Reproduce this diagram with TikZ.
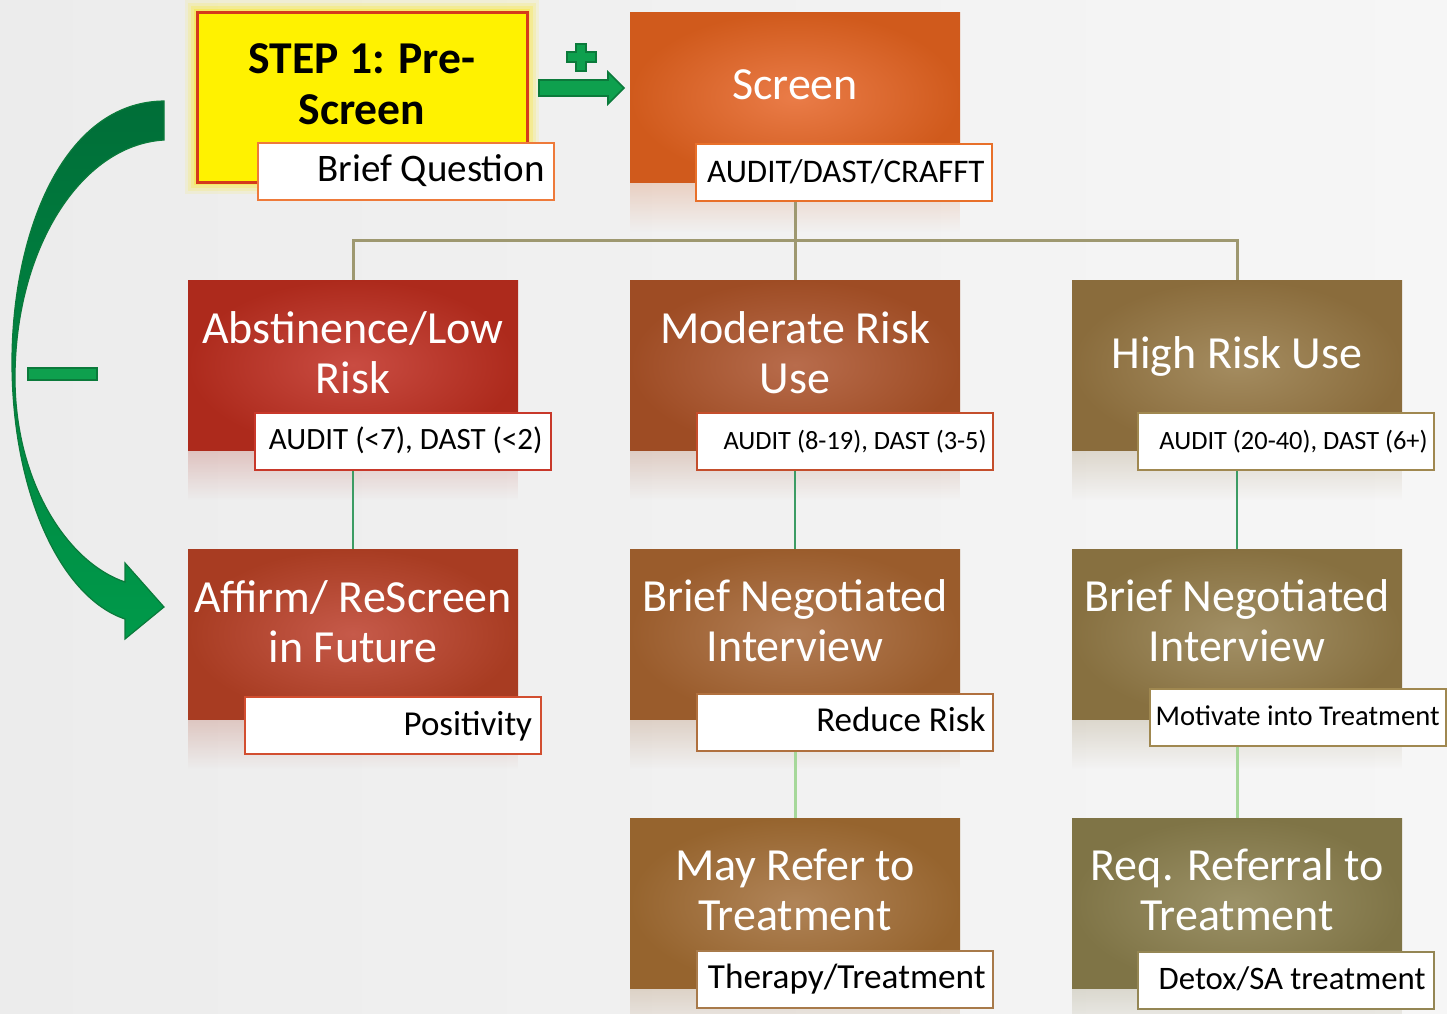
\documentclass[tikz,border=0pt]{standalone}
\usepackage{fontspec}
\setmainfont{Carlito}
\usetikzlibrary{fadings}

% box colours: edge / centre
\definecolor{scrO}{HTML}{D05A1C}\definecolor{scrI}{HTML}{EA7C48}
\definecolor{absO}{HTML}{AD2A1C}\definecolor{absI}{HTML}{C94C42}
\definecolor{affO}{HTML}{A83C22}\definecolor{affI}{HTML}{C65A4A}
\definecolor{modO}{HTML}{9E4C24}\definecolor{modI}{HTML}{B86C4C}
\definecolor{bnaO}{HTML}{9A5C2C}\definecolor{bnaI}{HTML}{B27C54}
\definecolor{refO}{HTML}{96642E}\definecolor{refI}{HTML}{B08458}
\definecolor{higO}{HTML}{8A6C3C}\definecolor{higI}{HTML}{A48C60}
\definecolor{bnbO}{HTML}{877040}\definecolor{bnbI}{HTML}{A29066}
\definecolor{reqO}{HTML}{7F7446}\definecolor{reqI}{HTML}{9C9268}
% tag borders
\definecolor{tagPre}{HTML}{EE7A3A}
\definecolor{tagScr}{HTML}{E8702A}
\definecolor{tagAbs}{HTML}{C8382A}
\definecolor{tagMod}{HTML}{C44E2C}
\definecolor{tagAff}{HTML}{D24E30}
\definecolor{tagBna}{HTML}{B0703E}
\definecolor{tagRef}{HTML}{A87A4A}
\definecolor{tagHig}{HTML}{A08850}
\definecolor{tagReq}{HTML}{948654}
% lines, arrows, background
\definecolor{trunkc}{HTML}{9E9870}
\definecolor{stemc}{HTML}{3C9C64}
\definecolor{lightstem}{HTML}{A6D89A}
\definecolor{arrfill}{HTML}{0EA04E}
\definecolor{arrdraw}{HTML}{0B7A3B}
\definecolor{crvtop}{HTML}{006E38}
\definecolor{crvbot}{HTML}{009A4A}
\definecolor{stepred}{HTML}{D43A1C}
\definecolor{bgl}{HTML}{ECECEC}
\definecolor{bgr}{HTML}{F6F6F6}

\newcommand\twolines[2]{\begin{tabular}[t]{@{}c@{}}#1\\#2\end{tabular}}

\begin{document}
\begin{tikzpicture}[x=0.5pt,y=-0.5pt,
  box/.style={minimum width=165pt,minimum height=85pt,inner sep=0pt,outer sep=0pt},
  tag/.style={draw,line width=1pt,fill=white,minimum width=148pt,minimum height=28.5pt,inner sep=0pt,outer sep=0pt},
  tagtext/.style={anchor=base east,inner sep=0pt,text=black},
  title/.style={anchor=base,inner sep=0pt,text=white,font=\fontsize{23}{25}\selectfont},
  trunk/.style={draw=trunkc,line width=1.5pt},
  stem/.style={draw=stemc,line width=1.2pt},
  lstem/.style={draw=lightstem,line width=1.5pt},
  mirror/.style={opacity=.22,path fading=south}
]
\useasboundingbox (0,0) rectangle (1447,1013);
\shade[left color=bgl,right color=bgr] (0,0) rectangle (1447,1013);

% soft reflections under the boxes
\foreach \cx/\by/\c in {795/182/scrO,353/450/absO,795/450/modO,1237/450/higO,
                        353/719/affO,795/719/bnaO,1237/719/bnbO,795/988/refO,1237/988/reqO}
  \fill[\c,mirror] (\cx-165,\by) rectangle (\cx+165,\by+50);

% glow round the first step
\foreach \r/\o in {12/0.10,9/0.14,6/0.2,3/0.3}
  \fill[yellow!90!orange,opacity=\o] (197-\r,12-\r) rectangle (527+\r,182+\r);

% main boxes
\node[box,draw=stepred,line width=1.5pt,fill=yellow] (pre) at (362,97) {};
\node[box,inner color=scrI,outer color=scrO] (screen) at (795,97) {};
\node[box,inner color=absI,outer color=absO] (abst) at (353,365) {};
\node[box,inner color=modI,outer color=modO] (mod) at (795,365) {};
\node[box,inner color=higI,outer color=higO] (high) at (1237,365) {};
\node[box,inner color=affI,outer color=affO] (affirm) at (353,634) {};
\node[box,inner color=bnaI,outer color=bnaO] (bnia) at (795,634) {};
\node[box,inner color=bnbI,outer color=bnbO] (bnib) at (1237,634) {};
\node[box,inner color=refI,outer color=refO] (refer) at (795,903) {};
\node[box,inner color=reqI,outer color=reqO] (req) at (1237,903) {};

% connectors
\coordinate (bus) at (795,240);
\draw[trunk] (screen.south) -- (bus) -| (abst.north);
\draw[trunk] (bus) -| (high.north);
\draw[trunk] (bus) -- (mod.north);
\draw[stem] (abst.south) -- (affirm.north);
\draw[stem] (mod.south) -- (bnia.north);
\draw[stem] (high.south) -- (bnib.north);
\draw[lstem] (bnia.south) -- (refer.north);
\draw[lstem] (bnib.south) -- (req.north);

% titles
\node[anchor=base,inner sep=0pt,font=\bfseries\fontsize{22.8}{25.5}\selectfont] (preT) at (362,73) {\twolines{STEP 1: Pre-}{Screen}};
\node[title] (screenT) at (795,99) {Screen};
\node[title] (abstT) at (353,343) {\twolines{Abstinence/Low}{Risk}};
\node[title] (modT) at (795,343) {\twolines{Moderate Risk}{Use}};
\node[title] (highT) at (1237,368) {High Risk Use};
\node[title] (affirmT) at (353,612) {\twolines{Affirm/ ReScreen}{in Future}};
\node[title] (bniaT) at (795,611) {\twolines{Brief Negotiated}{Interview}};
\node[title] (bnibT) at (1237,611) {\twolines{Brief Negotiated}{Interview}};
\node[title] (referT) at (795,880) {\twolines{May Refer to}{Treatment}};
\node[title] (reqT) at (1237,880) {\twolines{Req. Referral to}{Treatment}};

% tags
\node[tag,draw=tagPre] (preL) at (406,171.5) {};
\node[tag,draw=tagScr] (screenL) at (844,172.5) {};
\node[tag,draw=tagAbs] (abstL) at (403,441.5) {};
\node[tag,draw=tagMod] (modL) at (845,441.5) {};
\node[tag,draw=tagHig] (highL) at (1286,441.5) {};
\node[tag,draw=tagAff] (affirmL) at (392.5,725) {};
\node[tag,draw=tagBna] (bniaL) at (845,722) {};
\node[tag,draw=tagHig] (bnibL) at (1298,717) {};
\node[tag,draw=tagRef] (referL) at (845,979) {};
\node[tag,draw=tagReq] (reqL) at (1286,980) {};

\node[tagtext,font=\fontsize{19.5}{21}\selectfont] (preX) at ([xshift=-4.5pt,yshift=-5pt]preL.east) {Brief Question};
\node[tagtext,font=\fontsize{16.5}{18}\selectfont] (screenX) at ([xshift=-3.5pt,yshift=-4.75pt]screenL.east) {AUDIT/DAST/CRAFFT};
\node[tagtext,font=\fontsize{15.5}{17}\selectfont] (abstX) at ([xshift=-4pt,yshift=-3.75pt]abstL.east) {AUDIT (<7), DAST (<2)};
\node[tagtext,font=\fontsize{13.2}{15}\selectfont] (modX) at ([xshift=-3pt,yshift=-3.75pt]modL.east) {AUDIT (8-19), DAST (3-5)};
\node[tagtext,font=\fontsize{13.2}{15}\selectfont] (highX) at ([xshift=-3pt,yshift=-3.75pt]highL.east) {AUDIT (20-40), DAST (6+)};
\node[tagtext,font=\fontsize{17.5}{19}\selectfont] (affirmX) at ([xshift=-4pt,yshift=-5pt]affirmL.east) {Positivity};
\node[tagtext,font=\fontsize{17.5}{19}\selectfont] (bniaX) at ([xshift=-3.5pt,yshift=-4.5pt]bniaL.east) {Reduce Risk};
\node[tagtext,font=\fontsize{14.3}{16}\selectfont] (bnibX) at ([xshift=-3pt,yshift=-4pt]bnibL.east) {Motivate into Treatment};
\node[tagtext,font=\fontsize{17.6}{19}\selectfont] (referX) at ([xshift=-3.5pt,yshift=-4.5pt]referL.east) {Therapy/Treatment};
\node[tagtext,font=\fontsize{16.4}{18}\selectfont] (reqX) at ([xshift=-4pt,yshift=-4.5pt]reqL.east) {Detox/SA treatment};

% plus sign and block arrow towards the screen
\filldraw[fill=arrfill,draw=arrdraw,line width=0.8pt]
  (576,44) -- (586,44) -- (586,52) -- (596,52) -- (596,62) -- (586,62) -- (586,71)
  -- (576,71) -- (576,62) -- (567,62) -- (567,52) -- (576,52) -- cycle;
\filldraw[fill=arrfill,draw=arrdraw,line width=0.8pt]
  (539,80) -- (608,80) -- (608,72) -- (624,88) -- (608,104) -- (608,96) -- (539,96) -- cycle;

% curved arrow down the left side and the minus sign
\shade[top color=crvtop,bottom color=crvbot,draw=arrdraw,line width=0.6pt]
  (164,101) .. controls (62,102) and (12,235) .. (12,362)
  .. controls (12,495) and (62,598) .. (125,619)
  -- (125,639) -- (164,607) -- (125,563) -- (125,582)
  .. controls (66,562) and (15,480) .. (15,378)
  .. controls (15,250) and (80,145) .. (164,140) -- cycle;
\filldraw[fill=arrfill,draw=arrdraw,line width=0.6pt] (28,368) rectangle (97,380);
\end{tikzpicture}
\end{document}
